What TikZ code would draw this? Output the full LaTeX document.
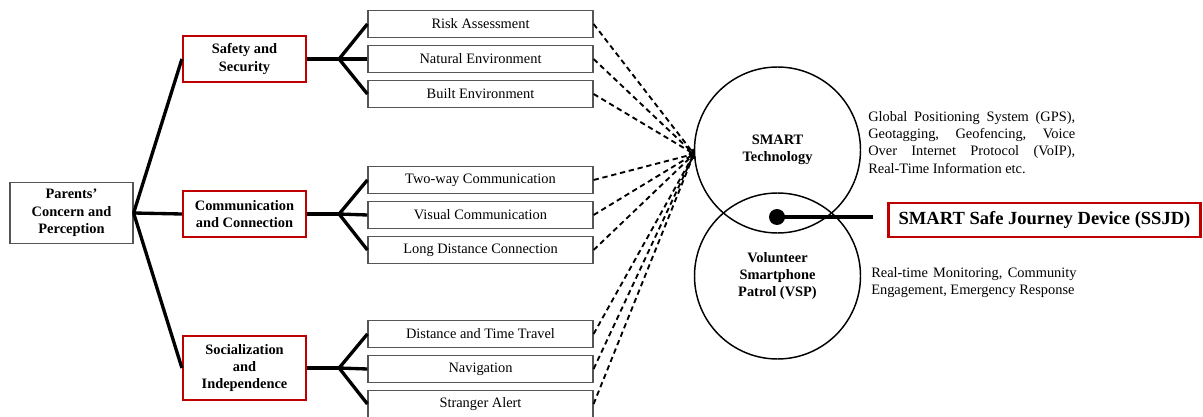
\documentclass[tikz,border=0pt]{standalone}
\usepackage{fontspec}
\setmainfont{Liberation Serif}
\usetikzlibrary{arrows.meta}
\definecolor{ssred}{RGB}{192,0,0}
\definecolor{ssgray}{RGB}{85,85,85}

\tikzset{
  label font/.style={font=\fontsize{10.8}{13}\selectfont},
  bold font/.style={font=\bfseries\fontsize{10.8}{13}\selectfont},
  rootbox/.style={draw=ssgray, line width=1.2pt, bold font, align=center,
    minimum width=92pt, minimum height=46pt, inner sep=0pt},
  catbox/.style={draw=ssred, line width=1.9pt, bold font, align=center,
    minimum width=92pt, minimum height=34.5pt, inner sep=0pt},
  leafbox/.style={draw=ssgray, line width=0.9pt, label font,
    minimum width=168.75pt, minimum height=20.25pt, inner sep=0pt},
  ring/.style={circle, draw, line width=1.1pt, bold font, align=center,
    minimum size=124.5pt, inner sep=0pt},
  pinstyle/.style={circle, fill, minimum size=12pt, inner sep=0pt},
  ssjdbox/.style={draw=ssred, line width=2.2pt,
    font=\bfseries\fontsize{13.9}{16}\selectfont,
    minimum width=234pt, minimum height=25.5pt, inner sep=0pt},
  note/.style={label font, align=justify, inner sep=0pt, anchor=north west},
  branch/.style={line width=2.5pt},
  link/.style={dash pattern=on 4pt off 2.8pt, line width=1.4pt,
    -{To[length=3.5pt, width=5pt]}}
}

\begin{document}
\begin{tikzpicture}[x=0.75pt, y=-0.75pt]
  \useasboundingbox (0,0) rectangle (1203,417);

  % root and the three concerns
  \node[rootbox] (parents) at (71.5,213) {Parents'\\Concern and\\Perception};
  \node[catbox] (safety) at (244.5,59) {Safety and\\Security};
  \node[catbox] (comm) at (244.5,214) {Communication\\and Connection};
  \node[catbox, minimum height=48pt] (social) at (244.5,368)
    {Socialization\\and\\Independence};
  \foreach \cat in {safety,comm,social} {
    \draw[branch] (parents.east) -- (\cat.west);
    \path (\cat.east) ++(32,0) coordinate (\cat-fork);
    \draw[branch] (\cat.east) -- (\cat-fork);
  }

  % the two circles
  \node[ring] (tech) at (777.5,150) {SMART\\Technology};
  \node[ring] (vsp) at (777.5,276) {Volunteer\\Smartphone\\Patrol (VSP)};
  \coordinate (hub) at (694,154);

  % leaves
  \foreach \cat/\y/\leaf/\txt in {
    safety/24/risk/Risk Assessment,
    safety/59/natural/Natural Environment,
    safety/94/built/Built Environment,
    comm/180/twoway/Two-way Communication,
    comm/215/visual/Visual Communication,
    comm/250/longdist/Long Distance Connection,
    social/334/travel/Distance and Time Travel,
    social/369/nav/Navigation,
    social/404/stranger/Stranger Alert} {
    \node[leafbox] (\leaf) at (480.5,\y) {\txt};
    \draw[branch] (\cat-fork) -- (\leaf.west);
    \draw[link] (\leaf.east) -- (hub);
  }

  % device
  \node[pinstyle] (pin) at (777,217) {};
  \coordinate (pinend) at (873,217);
  \draw[branch] (pin.center) -- (pinend);
  \node[ssjdbox] (ssjd) at (1044.5,220) {SMART Safe Journey Device (SSJD)};

  % notes
  \node[note, text width=155.25pt] (technote) at (868,111)
    {Global Positioning System (GPS),\linebreak Geotagging, Geofencing,
     Voice\linebreak Over Internet Protocol (VoIP),\linebreak Real-Time
     Information etc.};
  \node[note, text width=154pt] (vspnote) at (871,267)
    {Real-time Monitoring, Community\linebreak Engagement, Emergency Response};
\end{tikzpicture}
\end{document}
